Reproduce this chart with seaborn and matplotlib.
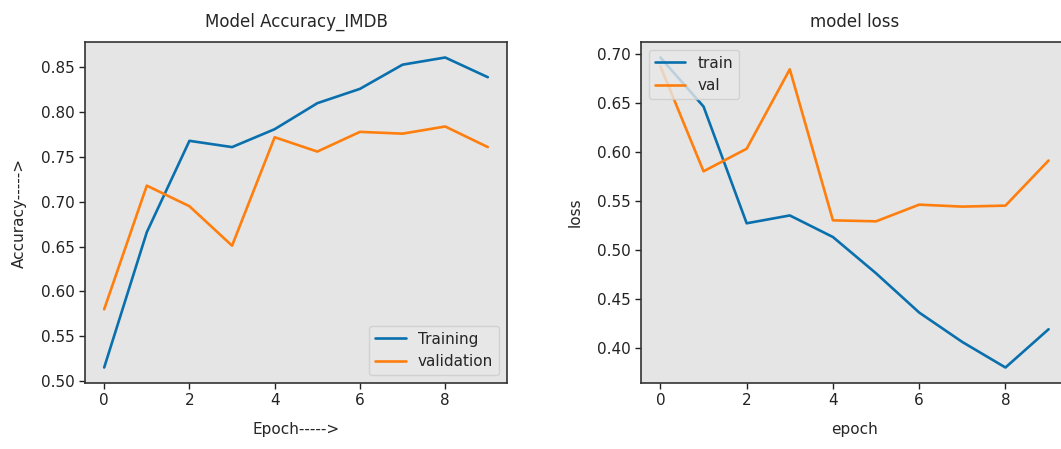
import matplotlib
matplotlib.use("Agg")
import matplotlib.pyplot as plt
import seaborn as sns
import logging
logging.getLogger('matplotlib.font_manager').setLevel(logging.ERROR)

epochs = list(range(10))
train_acc = [0.515, 0.666, 0.768, 0.761, 0.781, 0.810, 0.826, 0.853, 0.861, 0.839]
val_acc = [0.580, 0.718, 0.695, 0.651, 0.772, 0.756, 0.778, 0.776, 0.784, 0.761]
train_loss = [0.696, 0.646, 0.527, 0.535, 0.513, 0.476, 0.436, 0.406, 0.380, 0.419]
val_loss = [0.687, 0.580, 0.603, 0.684, 0.530, 0.529, 0.546, 0.544, 0.545, 0.591]

sns.set_theme(style="white", rc={
    "axes.facecolor": "#e5e5e5",
    "axes.edgecolor": "#333333",
    "axes.linewidth": 1.2,
    "xtick.bottom": True,
    "ytick.left": True,
    "xtick.major.size": 4,
    "ytick.major.size": 4,
    "xtick.color": "#222222",
    "ytick.color": "#222222",
})
plt.rcParams['font.family'] = ['DejaVu Sans']

blue = "#0a70ad"
orange = "#ff7f0e"
fs = 12

fig = plt.figure(figsize=(10.61, 4.49), dpi=100)
W, H = 1061, 449
ax1 = fig.add_axes([85 / W, (H - 383) / H, (507 - 85) / W, (383 - 42) / H])
ax2 = fig.add_axes([641 / W, (H - 383) / H, (1068 - 641) / W, (383 - 42) / H])

sns.lineplot(x=epochs, y=train_acc, ax=ax1, color=blue, label="Training", linewidth=1.9)
sns.lineplot(x=epochs, y=val_acc, ax=ax1, color=orange, label="validation", linewidth=1.9)
ax1.set_title("Model Accuracy_IMDB", fontsize=fs, pad=11)
ax1.set_xlabel("Epoch----->", fontsize=fs - 1, labelpad=10)
ax1.set_ylabel("Accuracy----->", fontsize=fs - 1, labelpad=10)
ax1.set_xticks([0, 2, 4, 6, 8])
ax1.set_yticks([0.50, 0.55, 0.60, 0.65, 0.70, 0.75, 0.80, 0.85])
ax1.legend(loc="lower right", fontsize=fs - 1, framealpha=0.8, facecolor="#e8e8e8", edgecolor="#cccccc")

sns.lineplot(x=epochs, y=train_loss, ax=ax2, color=blue, label="train", linewidth=1.9)
sns.lineplot(x=epochs, y=val_loss, ax=ax2, color=orange, label="val", linewidth=1.9)
ax2.set_title("model loss", fontsize=fs, pad=11)
ax2.set_xlabel("epoch", fontsize=fs - 1, labelpad=10)
ax2.set_ylabel("loss", fontsize=fs - 1, labelpad=10)
ax2.set_xticks([0, 2, 4, 6, 8])
ax2.set_yticks([0.40, 0.45, 0.50, 0.55, 0.60, 0.65, 0.70])
ax2.legend(loc="upper left", fontsize=fs - 1, framealpha=0.8, facecolor="#e8e8e8", edgecolor="#cccccc")

for ax in (ax1, ax2):
    ax.tick_params(labelsize=fs - 1, length=4, width=1)
    ax.grid(False)
    ax.margins(x=0.05, y=0.05)

fig.savefig("out.png", dpi=100, facecolor="white")
